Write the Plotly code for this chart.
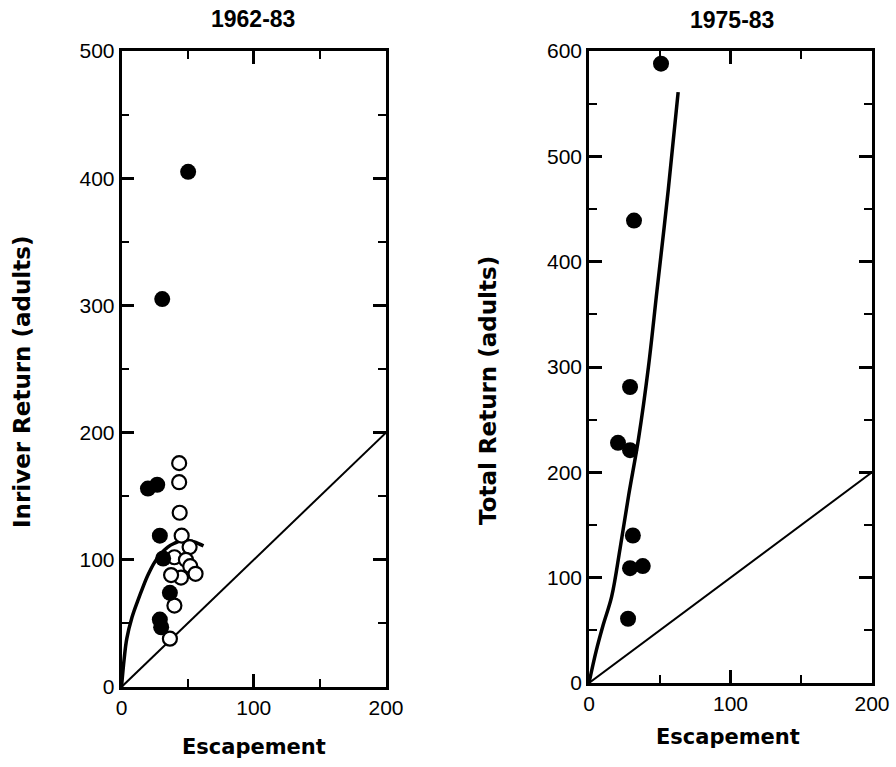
import plotly.graph_objects as go

# ---- data ----
# Panel 1: 1962-83, Inriver return vs escapement
left_filled_x = [50.4, 30.8, 20.0, 27.0, 29.0, 31.5, 36.6, 29.0, 30.0]
left_filled_y = [405, 305, 156, 159, 119, 101, 74, 53, 47]
left_open_x = [43.6, 43.6, 44.0, 45.5, 51.5, 40.0, 48.7, 52.0, 56.0, 45.0, 37.5, 40.0, 36.6]
left_open_y = [176, 161, 137, 119, 110, 102, 100, 95, 89, 86, 88, 64, 38]
left_curve_x = [0, 2, 4, 8, 12, 16, 20, 25, 30, 35, 40, 45, 50, 55, 62]
left_curve_y = [0, 22, 38, 55, 67, 78, 88, 98, 105, 110, 113, 115, 115, 114, 111]

# Panel 2: 1975-83, Total return vs escapement
right_x = [50.9, 31.8, 20.5, 29.0, 29.0, 31.0, 29.0, 38.0, 27.6]
right_y = [588, 439, 228, 221, 281, 140, 109, 111, 61]
right_curve_x = [0, 5, 10, 16, 22, 28, 35, 42, 48, 56, 63]
right_curve_y = [0, 30, 55, 82, 128, 178, 232, 300, 372, 468, 561]

# replacement (1:1) line
rep_x = [0, 200]
rep_y = [0, 200]

titles = ["1962-83", "1975-83"]
ytitles = ["Inriver Return (adults)", "Total Return (adults)"]
xtitle = "Escapement"

fig = go.Figure()

# left panel
fig.add_trace(go.Scatter(x=rep_x, y=rep_y, mode="lines", line=dict(color="black", width=2),
                         xaxis="x", yaxis="y", showlegend=False))
fig.add_trace(go.Scatter(x=left_curve_x, y=left_curve_y, mode="lines", line_shape="spline",
                         line=dict(color="black", width=3.5), xaxis="x", yaxis="y", showlegend=False))
fig.add_trace(go.Scatter(x=left_open_x, y=left_open_y, mode="markers",
                         marker=dict(size=14, color="white", line=dict(color="black", width=2.2)),
                         xaxis="x", yaxis="y", showlegend=False))
fig.add_trace(go.Scatter(x=left_filled_x, y=left_filled_y, mode="markers",
                         marker=dict(size=16, color="black", line=dict(width=0)),
                         xaxis="x", yaxis="y", showlegend=False))

# right panel
fig.add_trace(go.Scatter(x=rep_x, y=rep_y, mode="lines", line=dict(color="black", width=2),
                         xaxis="x2", yaxis="y2", showlegend=False))
fig.add_trace(go.Scatter(x=right_curve_x, y=right_curve_y, mode="lines", line_shape="spline",
                         line=dict(color="black", width=3.5), xaxis="x2", yaxis="y2", showlegend=False))
fig.add_trace(go.Scatter(x=right_x, y=right_y, mode="markers",
                         marker=dict(size=16, color="black", line=dict(width=0)),
                         xaxis="x2", yaxis="y2", showlegend=False))

W, H = 896, 767
def px(x):
    return x / W
def py(y):
    return 1 - y / H

tickfont = dict(family="Liberation Sans, Arial, sans-serif", size=21, color="black")
common = dict(showgrid=False, zeroline=False, showline=True, linecolor="black", linewidth=2.5,
              mirror="ticks", ticks="inside", tickcolor="black", tickwidth=2.5, ticklen=13,
              tickfont=tickfont, automargin=False)

fig.update_layout(
    width=W, height=H,
    margin=dict(l=0, r=0, t=0, b=0, pad=0, autoexpand=False),
    paper_bgcolor="white", plot_bgcolor="white",
    xaxis=dict(domain=[px(121.5), px(386)], range=[0, 200], tickvals=[0, 100, 200],
               minor=dict(tickvals=[50, 150], ticks="inside", ticklen=8, tickwidth=2, tickcolor="black"),
               anchor="y", **common),
    yaxis=dict(domain=[py(687), py(51)], range=[0, 500], tickvals=[0, 100, 200, 300, 400, 500],
               minor=dict(tickvals=[50, 150, 250, 350, 450], ticks="inside", ticklen=8, tickwidth=2, tickcolor="black"),
               anchor="x", **common),
    xaxis2=dict(domain=[px(589), px(872)], range=[0, 200], tickvals=[0, 100, 200],
                minor=dict(tickvals=[50, 150], ticks="inside", ticklen=8, tickwidth=2, tickcolor="black"),
                anchor="y2", **common),
    yaxis2=dict(domain=[py(683), py(51)], range=[0, 600], tickvals=[0, 100, 200, 300, 400, 500, 600],
                minor=dict(tickvals=[50, 150, 250, 350, 450, 550], ticks="inside", ticklen=8, tickwidth=2, tickcolor="black"),
                anchor="x2", **common),
)

titlefont = dict(family="Liberation Sans, Arial, sans-serif", size=23, color="black")
bold = dict(family="DejaVu Sans, Arial, sans-serif", size=21, color="black")
ybold = dict(family="DejaVu Sans, Arial, sans-serif", size=23, color="black")
ann = []
ann.append(dict(text="<b>%s</b>" % titles[0], x=px(253), y=py(19), xref="paper", yref="paper",
                showarrow=False, font=titlefont, xanchor="center", yanchor="middle"))
ann.append(dict(text="<b>%s</b>" % titles[1], x=px(732), y=py(20), xref="paper", yref="paper",
                showarrow=False, font=titlefont, xanchor="center", yanchor="middle"))
ann.append(dict(text="<b>%s</b>" % xtitle, x=px(254), y=py(747), xref="paper", yref="paper",
                showarrow=False, font=bold, xanchor="center", yanchor="middle"))
ann.append(dict(text="<b>%s</b>" % xtitle, x=px(728), y=py(737), xref="paper", yref="paper",
                showarrow=False, font=bold, xanchor="center", yanchor="middle"))
ann.append(dict(text="<b>%s</b>" % ytitles[0], x=px(22), y=py(382), xref="paper", yref="paper",
                showarrow=False, font=ybold, textangle=-90, xanchor="center", yanchor="middle"))
ann.append(dict(text="<b>%s</b>" % ytitles[1], x=px(488), y=py(390), xref="paper", yref="paper",
                showarrow=False, font=ybold, textangle=-90, xanchor="center", yanchor="middle"))
fig.update_layout(annotations=ann)

fig.write_html("out.html", config={"displayModeBar": False},
               post_script="document.body.style.margin='0';document.body.style.padding='0';document.body.style.overflow='hidden';")
